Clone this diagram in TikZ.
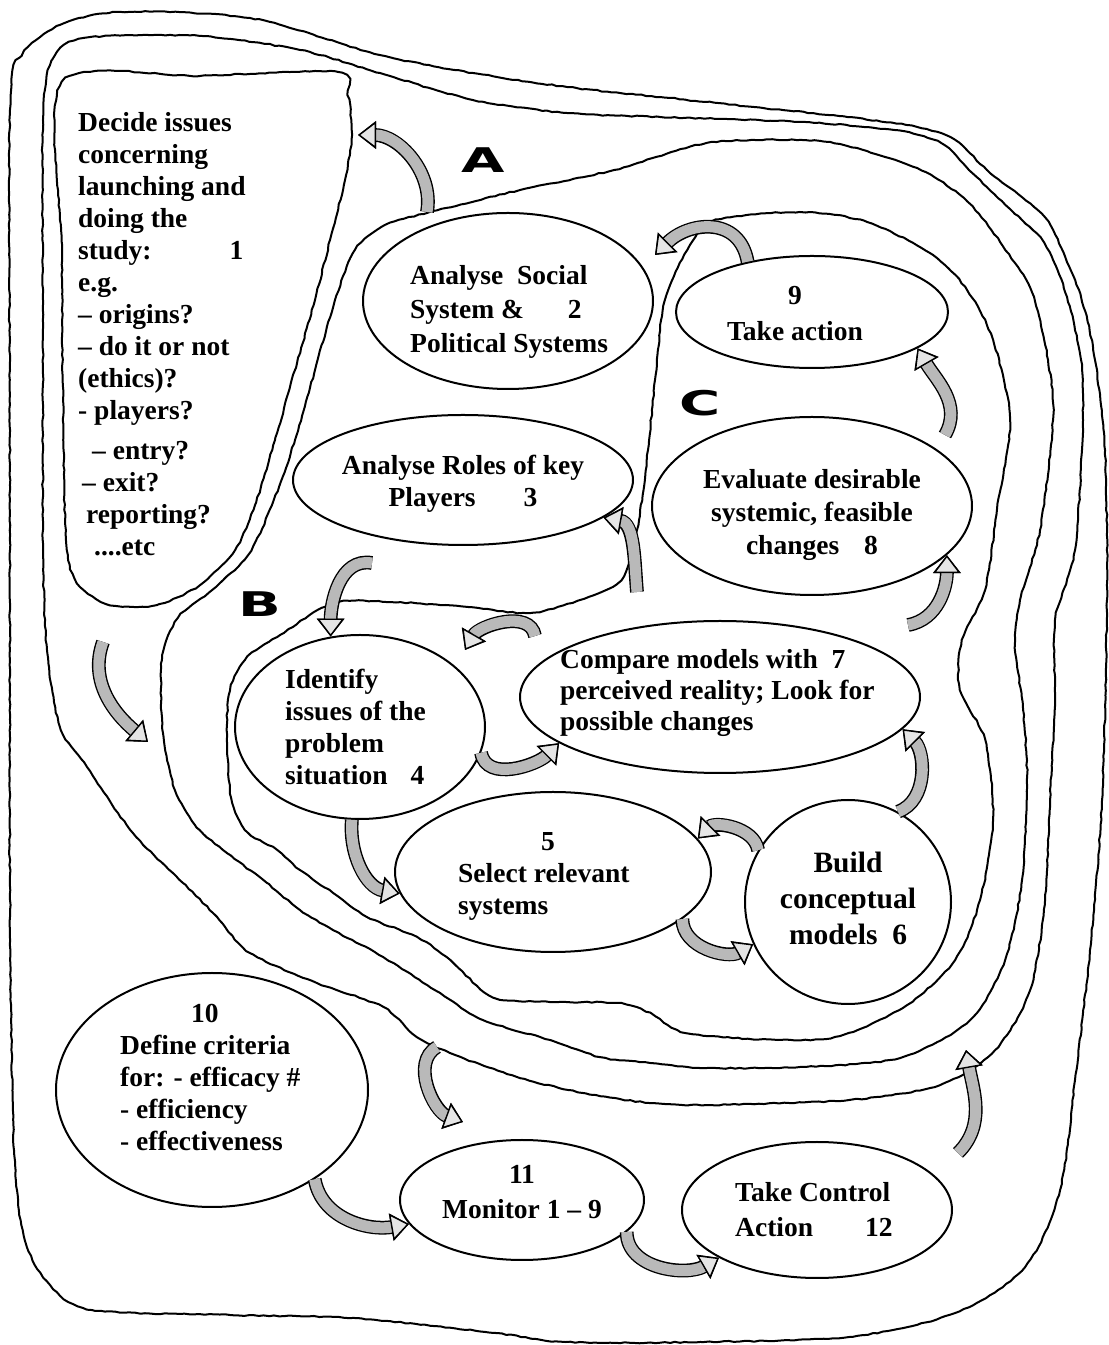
\documentclass[tikz,border=0pt]{standalone}
\usepackage{fontspec}
\setmainfont{Liberation Serif}
\newfontfamily\markfont{DejaVu Sans}
\usetikzlibrary{arrows.meta,shapes.geometric,decorations.pathmorphing}
\begin{document}
\begin{tikzpicture}[x=1pt,y=1pt,
    rim/.style={line width=2pt,line join=round,decorate,
      decoration={random steps,segment length=5pt,amplitude=.6pt}},
    stage/.style={ellipse,draw,line width=2pt,fill=white,inner sep=0pt},
    txt/.style={inner sep=0pt,font=\fontsize{27.5}{32}\selectfont\bfseries},
    streamlabel/.style={inner sep=0pt,font=\markfont\fontsize{34}{34}\selectfont\bfseries},
    cyc/.style={line width=11pt,draw=gray!55,
      -{Triangle[length=18pt,width=27pt,color=black,fill=gray!20,line width=1.4pt]},
      preaction={draw=black,line width=13.8pt,-{Triangle[length=18pt,width=27pt]}}}]
      \useasboundingbox (0,0) rectangle (1109,1345);

      % the four nested boundaries
      \draw[rim] plot[smooth cycle,tension=.5] coordinates {(10,1235) (22,1290) (60,1320) (120,1333) (250,1327) (380,1290) (473,1272) (567,1258) (660,1248) (754,1238) (847,1228) (917,1218) (955,1205) (987,1175) (1034,1138) (1053,1115) (1081,1048) (1095,985) (1105,895) (1107,745) (1102,545) (1090,395) (1075,265) (1060,155) (1025,78) (955,32) (849,8) (700,3) (566,3) (495,12) (354,27) (230,30) (92,35) (50,60) (25,105) (14,195) (10,445) (10,845)};
      \draw[rim] plot[smooth cycle,tension=.5] coordinates {(43,1225) (52,1285) (85,1307) (200,1309) (300,1295) (380,1272) (473,1245) (567,1232) (660,1228) (800,1223) (894,1215) (941,1202) (969,1175) (1011,1135) (1044,1102) (1067,1048) (1081,985) (1083,925) (1075,795) (1055,725) (1055,645) (1050,545) (1045,445) (1030,355) (995,295) (940,260) (849,245) (707,240) (650,242) (583,252) (517,268) (450,292) (417,308) (383,338) (317,362) (250,392) (217,428) (183,462) (133,512) (87,578) (60,618) (47,695) (43,795) (43,1045)};
      \draw[rim] plot[smooth cycle,tension=.5] coordinates {(427,1132) (520,1155) (614,1175) (707,1202) (800,1205) (847,1199) (917,1177) (969,1142) (1015,1082) (1034,1048) (1048,985) (1053,925) (1040,815) (1020,745) (1015,702) (1023,635) (1027,568) (1022,465) (1005,385) (970,325) (900,287) (800,278) (707,277) (650,282) (600,288) (550,305) (483,325) (440,352) (383,388) (333,415) (300,435) (267,462) (223,495) (195,520) (175,555) (163,612) (162,685) (178,727) (212,755) (248,790) (272,840) (295,905) (315,975) (335,1045) (355,1095) (385,1120)};
      \draw[rim] plot[smooth cycle,tension=.5] coordinates {(716,1125) (800,1133) (867,1123) (933,1090) (967,1055) (993,1005) (1010,925) (997,835) (985,755) (962,705) (960,655) (985,605) (993,525) (980,445) (955,385) (907,340) (840,309) (778,305) (686,312) (650,332) (617,342) (550,343) (493,348) (450,385) (417,408) (367,428) (333,452) (300,475) (277,495) (245,515) (230,555) (228,645) (245,685) (280,710) (334,742) (391,743) (468,738) (529,732) (580,745) (621,765) (637,815) (648,895) (655,965) (665,1045) (690,1100)};

      % box 1
      \draw[rim] plot[smooth cycle,tension=.45] coordinates {(62,1263) (200,1269) (338,1273) (348,1250) (352,1210) (345,1165) (330,1105) (315,1045) (295,975) (275,905) (255,840) (235,795) (200,760) (157,740) (110,740) (77,762) (66,805) (63,945) (62,1095)};

      \node[stage,minimum width=290pt,minimum height=176pt] (s2) at (508,1044) {};
      \node[stage,minimum width=272pt,minimum height=112pt] (s9) at (812,1033) {};
      \node[stage,minimum width=340pt,minimum height=130pt] (s3) at (463,865) {};
      \node[stage,minimum width=320pt,minimum height=178pt] (s8) at (812,839) {};
      \node[stage,minimum width=250pt,minimum height=184pt] (s4) at (360,618) {};
      \node[stage,minimum width=400pt,minimum height=152pt] (s7) at (720,648) {};
      \node[stage,minimum width=316pt,minimum height=160pt] (s5) at (553,473) {};
      \node[stage,minimum width=206pt,minimum height=204pt] (s6) at (848,443) {};
      \node[stage,minimum width=312pt,minimum height=234pt] (s10) at (212,255) {};
      \node[stage,minimum width=244pt,minimum height=120pt] (s11) at (522,145) {};
      \node[stage,minimum width=270pt,minimum height=136pt] (s12) at (817,135) {};

      % text nodes sit on the baseline of their last line
      \node[txt,anchor=base west,align=left] (t1) at (78,789) {Decide issues\\concerning\\launching and\\doing the\\study:\hspace*{78pt}1\\e.g.\\-- origins?\\-- do it or not\\(ethics)?\\- players?\\[8pt]\hspace*{14pt}-- entry?\\\hspace*{4pt}-- exit?\\\hspace*{8pt}reporting?\\\hspace*{16pt}....etc};
      \node[txt,anchor=base west,align=left,font=\fontsize{27.5}{34}\selectfont\bfseries] (t2) at (410,992) {Analyse\ \ Social\\System \&\hspace*{44pt}2\\Political Systems};
      \node[txt,anchor=base,align=center,font=\fontsize{27.5}{36}\selectfont\bfseries] (t9) at (795,1004) {9\\Take action};
      \node[txt,anchor=base,align=center] (t3) at (463,838) {Analyse Roles of key\\Players\hspace*{48pt}3};
      \node[txt,anchor=base,align=center,font=\fontsize{27.5}{33}\selectfont\bfseries] (t8) at (812,790) {Evaluate desirable\\systemic, feasible\\changes\hspace*{25pt}8};
      \node[txt,anchor=base west,align=left] (t4) at (285,560) {Identify\\issues of the\\problem\\situation\hspace*{23pt}4};
      \node[txt,anchor=base west,align=left,font=\fontsize{27.5}{31}\selectfont\bfseries] (t7) at (560,614) {Compare models with\ \ 7\\perceived reality; Look for\\possible changes};
      \node[txt,anchor=base west,align=left] (t5) at (458,430) {\hspace*{83pt}5\\Select relevant\\systems};
      \node[txt,anchor=base,align=center,font=\fontsize{29.5}{36}\selectfont\bfseries] (t6) at (848,400) {Build\\conceptual\\models\ \ 6};
      \node[txt,anchor=base west,align=left] (t10) at (120,194) {\hspace*{71pt}10\\Define criteria\\for: - efficacy \#\\- efficiency\\- effectiveness};
      \node[txt,anchor=base,align=center,font=\fontsize{27.5}{35}\selectfont\bfseries] (t11) at (522,126) {11\\Monitor 1 -- 9};
      \node[txt,anchor=base west,align=left,font=\fontsize{27.5}{35}\selectfont\bfseries] (t12) at (735,108) {Take Control\\Action\hspace*{52pt}12};

      \node[streamlabel] (lA) at (483,1185) {\scalebox{1.65}[1]{A}};
      \node[streamlabel] (lB) at (260,741) {\scalebox{1.65}[1]{B}};
      \node[streamlabel] (lC) at (700,942) {\scalebox{1.65}[1]{C}};

      \coordinate (pA) at (427,1133);
      \coordinate (qA) at (358,1210);
      \coordinate (q9) at (655,1090);
      \coordinate (p3) at (637,753);
      \coordinate (p4) at (372,782);
      \coordinate (p7) at (535,709);
      \coordinate (q4) at (465,695);
      \coordinate (p8) at (908,720);
      \coordinate (p9) at (945,910);
      \coordinate (p1) at (103,703);
      \coordinate (q1) at (148,603);
      \coordinate (pM) at (437,298);
      \coordinate (qM) at (463,223);
      \coordinate (pC) at (958,192);
      \coordinate (qC) at (966,295);

      \draw[cyc] (pA) to[out=80,in=0] (qA);
      \draw[cyc] (s9.142) to[out=100,in=45,looseness=1.3] (q9);
      \draw[cyc] (p3) to[out=95,in=-10] (s3.-15);
      \draw[cyc] (p4) to[out=170,in=90] (s4.108);
      \draw[cyc] (p7) to[out=100,in=60] (q4);
      \draw[cyc] (s4.-12) to[out=-80,in=225] (s7.196);
      \draw[cyc] (s4.-95) to[out=-95,in=170] (s5.188);
      \draw[cyc] (s6.150) to[out=100,in=45] (s5.13);
      \draw[cyc] (s5.-20) to[out=-90,in=210] (s6.204);
      \draw[cyc] (s6.61) to[out=20,in=-45] (s7.-10);
      \draw[cyc] (p8) to[out=10,in=-90] (s8.-20);
      \draw[cyc] (p9) to[out=60,in=-60] (s9.-19);
      \draw[cyc] (p1) to[out=250,in=140] (q1);
      \draw[cyc] (pM) to[out=210,in=160] (qM);
      \draw[cyc] (s10.-41) to[out=-80,in=190] (s11.192);
      \draw[cyc] (s11.-17) to[out=-90,in=210] (s12.206);
      \draw[cyc] (pC) to[out=45,in=-80] (qC);
\end{tikzpicture}
\end{document}
